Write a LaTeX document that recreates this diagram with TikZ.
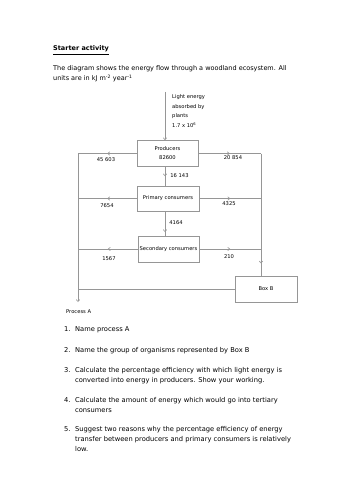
\documentclass[tikz,border=0pt]{standalone}
\usepackage{fontspec}
\setmainfont{DejaVu Sans}
\usetikzlibrary{arrows.meta,decorations.markings}
\definecolor{linecol}{RGB}{150,150,150}
\begin{document}
\begin{tikzpicture}[x=1pt,y=-1pt,
  flow/.style={draw=linecol, color=linecol, line width=0.6pt},
  box/.style={draw=linecol, line width=0.6pt, minimum width=61pt, minimum height=26pt, inner sep=0pt, align=center, text=black, font=\fontsize{5.2}{9}\selectfont},
  lab/.style={font=\fontsize{5.2}{9}\selectfont, inner sep=0pt, text=black},
  body/.style={font=\fontsize{6.5}{10}\selectfont, inner sep=0pt, anchor=base west, align=left, text=black},
  qtext/.style={body, font=\fontsize{6.7}{10}\selectfont},
  midarrow/.style={postaction={decorate}, decoration={markings, mark=at position #1 with {\arrow{Straight Barb[length=2pt,width=3.5pt]}}}},
  endarrow/.style={-{Straight Barb[length=2pt,width=3.5pt]}}
]
\useasboundingbox (0,0) rectangle (354,500);
\fill[white] (0,0) rectangle (354,500);

% boxes
\node[box] (prod) at (167.5,153.5) {Producers\\82600};
\node[box, minimum width=62pt, minimum height=25pt] (prim) at (168,198.5) {Primary consumers};
\node[box] (sec) at (168.5,249) {Secondary consumers};
\node[box, minimum width=62pt] (boxb) at (266,289) {Box B};

\coordinate (src) at (165,92);
\coordinate (lx) at (78,302);
\coordinate (rx) at (261,152);

% connectors
\draw[flow, endarrow] (src) -- (src |- prod.north);
\draw[flow, midarrow=0.5] (src |- prod.south) -- (src |- prim.north);
\draw[flow, midarrow=0.85] (src |- prim.south) -- (src |- sec.north);

\draw[flow, midarrow=0.5] (prod.west) -- (prod.west -| lx);
\draw[flow, endarrow] (prod.west -| lx) -- (lx);
\draw[flow, midarrow=0.5] (prim.west) -- (prim.west -| lx);
\draw[flow, midarrow=0.5] (sec.west) -- (sec.west -| lx);

\draw[flow, midarrow=0.5] (prod.east) -- (prod.east -| rx);
\draw[flow, midarrow=0.9] (prod.east -| rx) -- (rx |- boxb.north);
\draw[flow, midarrow=0.5] (prim.east) -- (prim.east -| rx);
\draw[flow, midarrow=0.5] (sec.east) -- (sec.east -| rx);
\draw[flow] (boxb.west) -- (boxb.west -| lx);

% labels
\node[lab] (l1) at (106,160) {45 603};
\node[lab] (l2) at (233,158) {20 854};
\node[lab] (l3) at (179.5,176) {16 143};
\node[lab] (l4) at (107,206) {7654};
\node[lab] (l5) at (229,204) {4325};
\node[lab] (l6) at (176,223) {4164};
\node[lab] (l7) at (109,259) {1567};
\node[lab] (l8) at (229,257) {210};
\node[lab, anchor=west] (pa) at (66,312) {Process A};
\node[lab, anchor=north west, align=left, font=\fontsize{5.2}{9.5}\selectfont] (le) at (172,94.5) {Light energy\\absorbed by\\plants\\1.7 x 10\textsuperscript{6}};

% text
\node[body, font=\fontsize{6.5}{10}\selectfont\bfseries] (title) at (53,51) {\underline{Starter activity}};
\node[body] (intro) at (53,81) {The diagram shows the energy flow through a woodland ecosystem. All\\units are in kJ m\textsuperscript{-2} year\textsuperscript{-1}};

\node[qtext] (n1) at (64,331) {1.};
\node[qtext] (q1) at (75,331) {Name process A};
\node[qtext] (n2) at (64,352) {2.};
\node[qtext] (q2) at (75,352) {Name the group of organisms represented by Box B};
\node[qtext] (n3) at (64,372) {3.};
\node[qtext] (q3) at (75,382) {Calculate the percentage efficiency with which light energy is\\converted into energy in producers. Show your working.};
\node[qtext] (n4) at (64,402) {4.};
\node[qtext] (q4) at (75,412) {Calculate the amount of energy which would go into tertiary\\consumers};
\node[qtext] (n5) at (64,431) {5.};
\node[qtext] (q5) at (75,451) {Suggest two reasons why the percentage efficiency of energy\\transfer between producers and primary consumers is relatively\\low.};
\end{tikzpicture}
\end{document}
